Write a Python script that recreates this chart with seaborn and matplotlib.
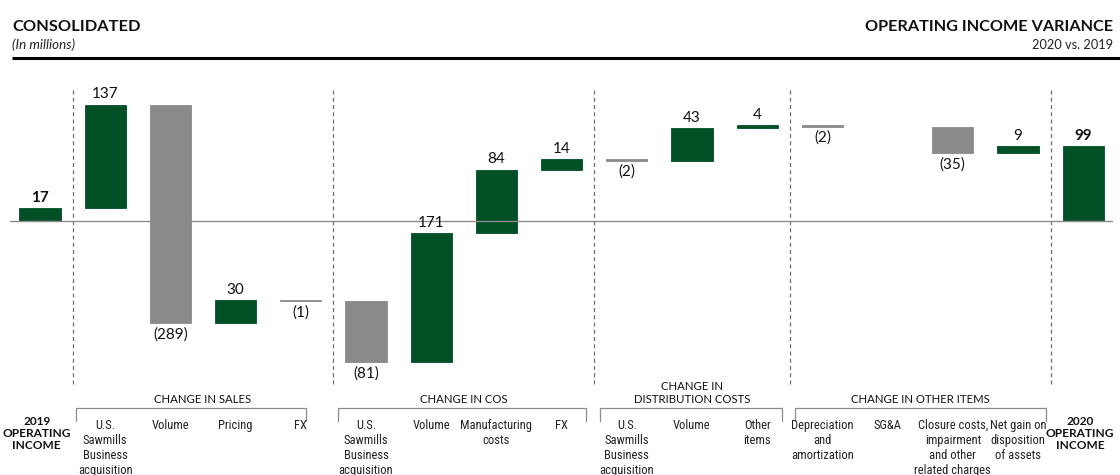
import numpy as np
import pandas as pd
import matplotlib
matplotlib.use("Agg")
import matplotlib.pyplot as plt
from matplotlib import font_manager
import seaborn as sns

# ---- data -------------------------------------------------------------
tick_labels = [
    "2019\nOPERATING\nINCOME",
    "U.S.\nSawmills\nBusiness\nacquisition", "Volume", "Pricing", "FX",
    "U.S.\nSawmills\nBusiness\nacquisition", "Volume", "Manufacturing\ncosts", "FX",
    "U.S.\nSawmills\nBusiness\nacquisition", "Volume", "Other\nitems",
    "Depreciation\nand\namortization", "SG&A",
    "Closure costs,\nimpairment\nand other\nrelated charges",
    "Net gain on\ndisposition\nof assets",
    "2020\nOPERATING\nINCOME",
]
values = [17, 137, -289, 30, -1, -81, 171, 84, 14, -2, 43, 4, -2, 0, -35, 9, 99]
is_total = [True] + [False] * 15 + [True]

group_titles = ["CHANGE IN SALES", "CHANGE IN COS",
                "CHANGE IN\nDISTRIBUTION COSTS", "CHANGE IN OTHER ITEMS"]
group_members = [(1, 4), (5, 8), (9, 11), (12, 15)]

# ---- style ------------------------------------------------------------
GREEN = "#004f25"
GREY = "#8a8a8a"
W, H = 1120, 475
STEP, X0 = 65.2, 40          # px between bar centres, first centre
BASE, SCALE = 221, 0.755     # zero line row (px from top), px per unit

sns.set_style("white")
entries = font_manager.fontManager.ttflist
available = {f.name for f in entries}
HEAD = "Lato" if "Lato" in available else "DejaVu Sans"
plt.rcParams["font.family"] = [HEAD, "DejaVu Sans"]


def narrow_font():
    """Pick a narrow face for the small category captions."""
    for pref in ("Liberation Sans Narrow", "Roboto Condensed", "Open Sans Condensed",
                 "Noto Sans Condensed", "DejaVu Sans Condensed"):
        if pref in available:
            return dict(family=pref), 9.0
    for f in entries:
        if "Narrow" in f.name or "Condensed" in f.name:
            return dict(family=f.name), 9.0
    for f in entries:
        if f.name == "DejaVu Sans" and "condensed" in str(f.stretch):
            return dict(family="DejaVu Sans", fontstretch="condensed"), 8.3
    return dict(family=HEAD), 8.0


NARROW_KW, NARROW_SIZE = narrow_font()


def xd(px):
    return (px - X0) / STEP


def yd(py):
    return (BASE - py) / SCALE


# ---- waterfall geometry ----------------------------------------------
bottoms, running = [], 0
for v, tot in zip(values, is_total):
    if tot:
        bottoms.append(0)
        running = v
    else:
        bottoms.append(running)
        running += v

df = pd.DataFrame({"pos": np.arange(len(values)), "value": values,
                   "bottom": bottoms, "total": is_total})
df["top"] = df["bottom"] + df["value"]
df["colour"] = np.where(df["total"] | (df["value"] > 0), "green", "grey")
drawn = df[df["value"] != 0]

fig = plt.figure(figsize=(W / 100, H / 100), dpi=100)
ax = fig.add_axes([0, 0, 1, 1])

for key, col in (("green", GREEN), ("grey", GREY)):
    sub = drawn[drawn["colour"] == key].sort_values("pos")
    sns.barplot(data=sub, x="pos", y="value", native_scale=True, ax=ax,
                width=0.63, color=col, saturation=1, errorbar=None,
                bottom=sub["bottom"].to_numpy(), edgecolor=col, linewidth=0.6)

ax.set_xlim(xd(0), xd(W))
ax.set_ylim(yd(H), yd(0))
ax.axis("off")

# zero line
ax.plot([xd(10), xd(1112)], [0, 0], color="#8c8c8c", lw=1.0, zorder=1)

# dashed separators between sections
for s in (0.5, 4.5, 8.5, 11.5, 15.5):
    ax.plot([s, s], [yd(90), yd(386)], color="#6e6e6e", lw=0.9,
            linestyle=(0, (3.2, 2.6)), zorder=0)

# value labels
for r in df.itertuples():
    if r.value == 0:
        continue
    txt = f"{r.value}" if r.value > 0 else f"({-r.value})"
    up = r.value > 0
    y_edge = max(r.bottom, r.top) if up else min(r.bottom, r.top)
    ax.annotate(txt, (r.pos, y_edge), xytext=(0, 2.5 if up else -3),
                textcoords="offset points", ha="center",
                va="bottom" if up else "top", fontsize=11,
                fontweight="bold" if r.total else "normal", color="#111111")

# category labels
for i, lab in enumerate(tick_labels):
    if is_total[i]:
        ax.text(i - 0.05, yd(416), lab, ha="center", va="top", fontsize=8.6,
                fontweight="bold", family=HEAD, linespacing=1.12, color="#111111")
    else:
        ax.text(i, yd(419), lab, ha="center", va="top", fontsize=NARROW_SIZE,
                linespacing=1.2, multialignment="center", color="#222222",
                **NARROW_KW)

# group titles and brackets
bracket_ends = [(76, 306), (338, 586), (600, 782), (795, 1046)]
for title, (a, b), (l, r) in zip(group_titles, group_members, bracket_ends):
    ax.text((a + b) / 2, yd(405), title, ha="center", va="bottom",
            fontsize=8.2, family=HEAD, multialignment="center",
            linespacing=1.25, color="#111111")
    ax.plot([xd(l), xd(l), xd(r), xd(r)],
            [yd(421), yd(408), yd(408), yd(421)], color="#8c8c8c", lw=0.9)

# header
ax.plot([xd(12), xd(W)], [yd(58.5), yd(58.5)], color="black", lw=2.2,
        solid_capstyle="butt")
fig.text(12 / W, 1 - 31 / H, "CONSOLIDATED", fontsize=11.8, fontweight="bold",
         ha="left", va="baseline", color="#111111")
fig.text(12 / W, 1 - 49 / H, "(In millions)", fontsize=9.6, style="italic",
         ha="left", va="baseline", color="#222222")
fig.text(1113 / W, 1 - 31 / H, "OPERATING INCOME VARIANCE", fontsize=11.7,
         fontweight="bold", ha="right", va="baseline", color="#111111")
fig.text(1113 / W, 1 - 49 / H, "2020 vs. 2019", fontsize=9.2,
         ha="right", va="baseline", color="#222222")

fig.savefig("out.png", dpi=100, facecolor="white")
